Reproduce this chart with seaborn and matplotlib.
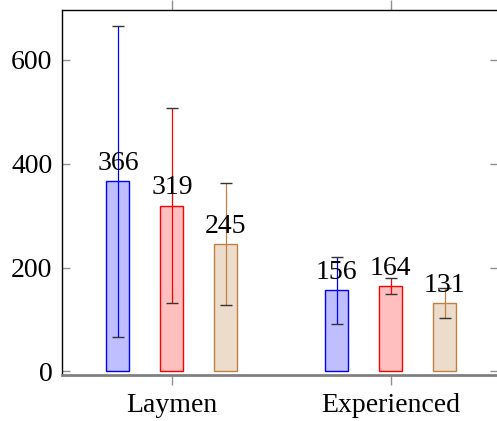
import pandas as pd
import matplotlib.pyplot as plt
import seaborn as sns

sns.set_theme(style="white")
plt.rcParams['font.family'] = ['Liberation Serif', 'DejaVu Serif']

# ---------------- data ----------------
groups = ["Laymen", "Experienced"]
conditions = ["cond1", "cond2", "cond3"]
means_1 = [366, 156]
means_2 = [319, 164]
means_3 = [245, 131]
err_1 = [300, 64]
err_2 = [188, 15]
err_3 = [118, 29]

fills = ['#bfbfff', '#ffbfbf', '#ecdccb']
edges = ['#0000ff', '#ff0000', '#bf8040']

means = [means_1, means_2, means_3]
errs = [err_1, err_2, err_3]

rows = []
for c, vals in zip(conditions, means):
    for g, v in zip(groups, vals):
        rows.append({'group': g, 'cond': c, 'value': v})
df = pd.DataFrame(rows)

# ---------------- plot ----------------
fig = plt.figure(figsize=(4.97, 4.21), dpi=100)
ax = fig.add_axes([62 / 497, 1 - 375 / 421, 436 / 497, 365 / 421])

sns.barplot(data=df, x='group', y='value', hue='cond', palette=fills,
            saturation=1, width=0.74, gap=0.575, errorbar=None, legend=False,
            linewidth=1.0, ax=ax)

bar_conts = list(ax.containers)  # errorbar() adds more containers below
for i, cont in enumerate(bar_conts):
    for j, bar in enumerate(cont):
        bar.set_edgecolor(edges[i])
        bar.set_linewidth(1.0)
        xc = bar.get_x() + bar.get_width() / 2
        h = bar.get_height()
        _, caps, _ = ax.errorbar(xc, h, yerr=errs[i][j], ecolor=edges[i],
                                 elinewidth=0.9, capsize=4, capthick=1.0,
                                 fmt='none', zorder=3)
        for cap in caps:
            cap.set_markeredgecolor('#333333')
        ax.annotate(f"{h:.0f}", (xc, h), xytext=(0, 4), textcoords='offset points',
                    ha='center', va='bottom', fontsize=20, color='black', zorder=4)

ax.set_xlim(-0.502, 1.49)
ax.set_ylim(-7, 696)
ax.set_yticks([0, 200, 400, 600])
ax.set_xlabel("")
ax.set_ylabel("")

ax.tick_params(axis='y', which='both', direction='in', length=6, width=1.0,
               color='#909090', left=True, right=True, labelsize=20, pad=7,
               labelcolor='black')
ax.tick_params(axis='x', which='both', direction='out', length=7, width=1.0,
               color='#909090', bottom=True, top=True, labelsize=20, pad=6,
               labelcolor='black')

for s in ['left', 'top', 'right']:
    ax.spines[s].set_color('black')
    ax.spines[s].set_linewidth(1.0)
ax.spines['bottom'].set_color('#808080')
ax.spines['bottom'].set_linewidth(2.0)

fig.savefig('out.png', dpi=100)
